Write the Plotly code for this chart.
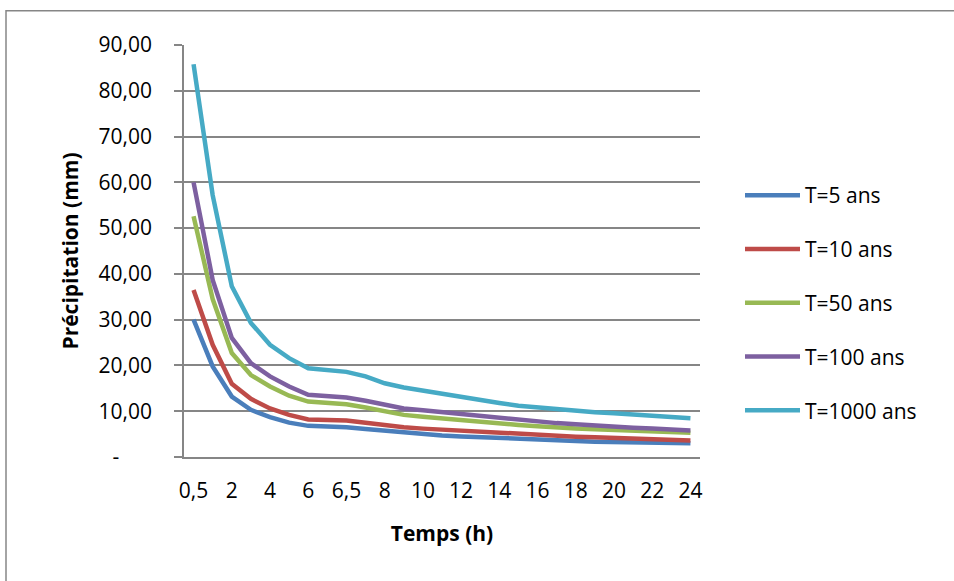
import plotly.graph_objects as go

# Durées (h) — une étiquette sur deux est affichée sur l'axe
temps = ["0,5", "1", "2", "3", "4", "5", "6", "6,25", "6,5", "7", "8", "9", "10",
         "11", "12", "13", "14", "15", "16", "17", "18", "19", "20", "21", "22", "23", "24"]

t5 = [30.0, 19.8, 13.2, 10.3, 8.7, 7.5, 6.8, 6.7, 6.5, 6.1, 5.7, 5.35, 5.1, 4.7,
      4.5, 4.3, 4.1, 3.9, 3.8, 3.6, 3.5, 3.35, 3.3, 3.2, 3.1, 3.05, 3.0]
t10 = [36.5, 24.5, 16.0, 12.7, 10.6, 9.2, 8.2, 8.1, 7.95, 7.5, 6.9, 6.5, 6.2, 5.95,
       5.75, 5.5, 5.25, 5.0, 4.8, 4.6, 4.45, 4.3, 4.15, 4.0, 3.85, 3.7, 3.6]
t50 = [52.6, 34.5, 22.7, 17.9, 15.4, 13.4, 12.1, 11.7, 11.5, 10.8, 9.9, 9.2, 8.8, 8.4,
       8.0, 7.7, 7.3, 7.0, 6.7, 6.4, 6.25, 6.05, 5.9, 5.75, 5.6, 5.45, 5.3]
t100 = [60.0, 38.7, 26.0, 20.5, 17.6, 15.4, 13.6, 13.2, 13.0, 12.3, 11.4, 10.6, 10.2, 9.8,
        9.3, 8.9, 8.5, 8.1, 7.7, 7.4, 7.15, 6.85, 6.6, 6.4, 6.2, 6.05, 5.8]
t1000 = [85.8, 57.2, 37.3, 29.3, 24.5, 21.6, 19.4, 18.9, 18.6, 17.6, 16.1, 15.2, 14.5, 13.7,
         13.0, 12.3, 11.8, 11.2, 10.8, 10.5, 10.1, 9.8, 9.55, 9.3, 9.0, 8.75, 8.45]

series = [
    ("T=5 ans", t5, "#4A7EBB"),
    ("T=10 ans", t10, "#BE4B48"),
    ("T=50 ans", t50, "#98B954"),
    ("T=100 ans", t100, "#7D60A0"),
    ("T=1000 ans", t1000, "#46AAC5"),
]

y_ticks = [0, 10, 20, 30, 40, 50, 60, 70, 80, 90]
y_labels = ["-" + "\u00a0" * 6] + [f"{v},00" for v in y_ticks[1:]]

FONT = "Open Sans"
GRID = "#868686"

W, H = 954, 581
L, R, T, B = 184, 254, 45, 124
pw, ph = W - L - R, H - T - B

idx = list(range(len(temps)))

fig = go.Figure()
for i, (name, vals, col) in enumerate(series):
    fig.add_trace(go.Scatter(
        x=idx, y=vals, mode="lines", name=name, legendgroup=f"g{i}",
        line=dict(color=col, width=4.5),
    ))

# cadre de la zone graphique
fig.add_shape(type="rect", xref="paper", yref="paper",
              x0=(6 - L) / pw, x1=(W + 20 - L) / pw,
              y0=(H - B - (H + 20)) / ph, y1=(H - B - 10.7) / ph,
              line=dict(color=GRID, width=1.5), fillcolor="rgba(0,0,0,0)", layer="below")

fig.update_layout(
    width=W, height=H,
    margin=dict(l=L, r=R, t=T, b=B, autoexpand=False),
    paper_bgcolor="white", plot_bgcolor="white",
    font=dict(family=FONT, size=21, color="black"),
    showlegend=True,
    legend=dict(x=(740 - L) / pw, y=(H - B - 175) / ph, xanchor="left", yanchor="top",
                tracegroupgap=23.5, itemwidth=55, bgcolor="rgba(0,0,0,0)",
                font=dict(family=FONT, size=21, color="black")),
    xaxis=dict(
        range=[-0.5, len(temps) - 0.5],
        tickvals=idx[::2], ticktext=temps[::2],
        showgrid=False, zeroline=False,
        showline=True, linecolor=GRID, linewidth=1.5,
        ticks="", ticklabelstandoff=14,
        tickfont=dict(family=FONT, size=21),
        title=dict(text="<b>Temps (h)</b>", font=dict(family=FONT, size=21), standoff=23),
    ),
    yaxis=dict(
        range=[0, 90],
        tickvals=y_ticks, ticktext=y_labels,
        showgrid=True, gridcolor=GRID, gridwidth=1.5,
        zeroline=False,
        showline=True, linecolor=GRID, linewidth=1.5,
        ticks="outside", ticklen=8, tickcolor=GRID, tickwidth=1.5,
        ticklabelstandoff=18,
        tickfont=dict(family=FONT, size=21),
        title=dict(text="<b>Précipitation (mm)</b>", font=dict(family=FONT, size=21), standoff=14),
    ),
)

fig.write_html("out.html")
